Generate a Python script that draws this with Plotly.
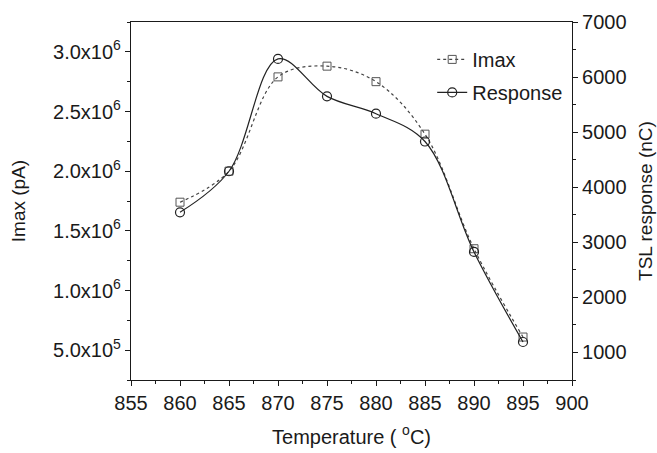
import plotly.graph_objects as go

temperature = [860, 865, 870, 875, 880, 885, 890, 895]
imax_pA = [1.74e6, 2.00e6, 2.79e6, 2.88e6, 2.75e6, 2.31e6, 1.35e6, 6.1e5]
response_nC = [3545, 4290, 6330, 5650, 5335, 4830, 2825, 1190]

left_tickvals = [5e5, 1.0e6, 1.5e6, 2.0e6, 2.5e6, 3.0e6]
left_ticktext = ["5.0x10<sup>5</sup>", "1.0x10<sup>6</sup>", "1.5x10<sup>6</sup>",
                 "2.0x10<sup>6</sup>", "2.5x10<sup>6</sup>", "3.0x10<sup>6</sup>"]
right_tickvals = [1000, 2000, 3000, 4000, 5000, 6000, 7000]
x_tickvals = [855, 860, 865, 870, 875, 880, 885, 890, 895, 900]

FONT = "Liberation Sans, Arial, sans-serif"
INK = "#1a1a1a"

fig = go.Figure()
fig.add_trace(go.Scatter(
    x=temperature, y=imax_pA, name="Imax", yaxis="y",
    mode="lines+markers", legendgroup="a",
    line=dict(shape="spline", smoothing=1.0, dash="dot", color="#444", width=1.2),
    marker=dict(symbol="square-open", size=8, color="#555", line=dict(width=1)),
))
fig.add_trace(go.Scatter(
    x=temperature, y=response_nC, name="Response", yaxis="y2",
    mode="lines+markers", legendgroup="b",
    line=dict(shape="spline", smoothing=1.0, color="#222", width=1.2),
    marker=dict(symbol="circle-open", size=9, color="#222", line=dict(width=1.2)),
))

axis_common = dict(showline=True, linecolor=INK, linewidth=1.2, ticks="outside",
                   tickcolor=INK, tickwidth=1, ticklen=5, showgrid=False, zeroline=False,
                   automargin=False,
                   tickfont=dict(family=FONT, size=20, color=INK))

fig.update_layout(
    width=657, height=453,
    margin=dict(l=131, r=85, t=22, b=73),
    paper_bgcolor="white", plot_bgcolor="white",
    font=dict(family=FONT, size=19, color=INK),
    xaxis=dict(range=[855, 900], tickvals=x_tickvals, mirror=True,
               minor=dict(dtick=2.5, tick0=855, ticks="outside", ticklen=3, tickcolor=INK),
               title=dict(text="Temperature ( <sup>o</sup>C)", standoff=16,
                          font=dict(family=FONT, size=20, color=INK)),
               **axis_common),
    yaxis=dict(range=[2.5e5, 3.25e6], tickvals=left_tickvals, ticktext=left_ticktext,
               minor=dict(dtick=2.5e5, tick0=0, ticks="outside", ticklen=3, tickcolor=INK),
               title=dict(text="Imax (pA)", standoff=22,
                          font=dict(family=FONT, size=19, color=INK)),
               **axis_common),
    yaxis2=dict(range=[500, 7000], tickvals=right_tickvals, overlaying="y", side="right",
                minor=dict(dtick=500, tick0=0, ticks="outside", ticklen=3, tickcolor=INK),
                title=dict(text="TSL response (nC)", standoff=13,
                           font=dict(family=FONT, size=19, color=INK)),
                **axis_common),
    legend=dict(x=0.683, y=0.95, xanchor="left", yanchor="top",
                bgcolor="rgba(0,0,0,0)", traceorder="grouped", tracegroupgap=4,
                font=dict(family=FONT, size=20, color=INK)),
    showlegend=True,
)

fig.write_html("out.html")
